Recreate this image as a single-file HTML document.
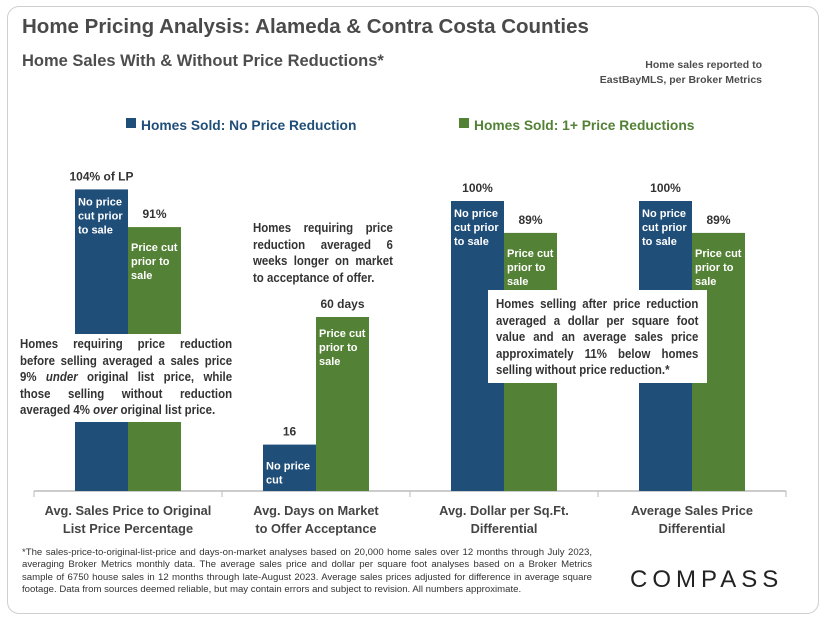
<!DOCTYPE html>
<html><head><meta charset="utf-8"><style>
body{margin:0;width:825px;height:619px;background:#fff;font-family:"Liberation Sans",sans-serif;overflow:hidden;position:relative}
.card{position:absolute;left:7px;top:6px;width:810px;height:606px;border:1px solid #cfcfcf;border-radius:12px}
.t{position:absolute;color:#4d4d4d;font-weight:bold}
.ann{position:absolute;background:#fff}
.ann>div{transform:scaleX(0.88);transform-origin:0 0;font-weight:bold;color:#333;font-size:13px;line-height:16.5px}
.ann span{display:block;white-space:nowrap;text-align:justify;text-align-last:justify}
.ann span.last{text-align-last:left}
</style></head><body>
<div class="card"></div>
<div class="t" style="left:22px;top:15px;font-size:20.5px;color:#4a4a4a">Home Pricing Analysis: Alameda &amp; Contra Costa Counties</div>
<div class="t" style="left:22px;top:52px;font-size:16.5px">Home Sales With &amp; Without Price Reductions*</div>
<div class="t" style="right:63px;top:58px;font-size:10.5px;text-align:right;line-height:15px">Home sales reported to<br>EastBayMLS, per Broker Metrics</div>
<svg id="chart" width="825" height="619" style="position:absolute;left:0;top:0"></svg>
<div class="t" style="left:22px;top:547px;width:570px;font-size:9.6px;line-height:12.3px;font-weight:normal;color:#333;text-align:justify">*The sales-price-to-original-list-price and days-on-market analyses based on 20,000 home sales over 12 months through July 2023, averaging Broker Metrics monthly data. The average sales price and dollar per square foot analyses based on a Broker Metrics sample of 6750 house sales in 12 months through late-August 2023. Average sales prices adjusted for difference in average square footage. Data from sources deemed reliable, but may contain errors and subject to revision. All numbers approximate.</div>
<div class="t" style="left:630px;top:566px;font-size:24px;letter-spacing:5px;font-weight:normal;color:#222">COMPASS</div>
<script>
const categories=[["Avg. Sales Price to Original","List Price Percentage"],["Avg. Days on Market","to Offer Acceptance"],["Avg. Dollar per Sq.Ft.","Differential"],["Average Sales Price","Differential"]];
const noCut=[104,16,100,100];
const withCut=[91,60,89,89];
const noCutLabels=["104% of LP","16","100%","100%"];
const withCutLabels=["91%","60 days","89%","89%"];
const noCutInner=[["No price","cut prior","to sale"],["No price","cut"],["No price","cut prior","to sale"],["No price","cut prior","to sale"]];
const withCutInner=[["Price cut","prior to","sale"],["Price cut","prior to","sale"],["Price cut","prior to","sale"],["Price cut","prior to","sale"]];
const svg=document.getElementById('chart');const NS='http://www.w3.org/2000/svg';
const base=491,left=34,gw=188,k=2.9;
const y=v=>base-v*k;const h=v=>v*k;
function mk(t,a,p){const e=document.createElementNS(NS,t);for(const x in a)e.setAttribute(x,a[x]);(p||svg).appendChild(e);return e;}
function txt(x,yy,s,o){const e=mk('text',Object.assign({x:x,y:yy,'font-family':'Liberation Sans, sans-serif','font-weight':'bold','font-size':12,fill:'#333'},o||{}));e.textContent=s;return e;}
let r=mk('rect',{x:126,y:118,width:10,height:10,fill:'#1f4e79'});
let l=txt(141,130,'Homes Sold: No Price Reduction',{'font-size':13.8,fill:'#1f4e79'});
r=mk('rect',{x:459,y:118,width:10,height:10,fill:'#538135'});
l=txt(474,130,'Homes Sold: 1+ Price Reductions',{'font-size':13.8,fill:'#538135'});
let ax=mk('line',{x1:left,y1:base,x2:left+gw*4,y2:base,stroke:'#bbb','stroke-width':1.5});
categories.forEach((c,i)=>{
 const gx=left+i*gw;
 let tk=mk('line',{x1:gx,y1:base,x2:gx,y2:base+6,stroke:'#bbb'});
 if(i==3){tk=mk('line',{x1:gx+gw,y1:base,x2:gx+gw,y2:base+6,stroke:'#bbb'});}
 const bx=gx+41,bw=53;
 let b=mk('rect',{x:bx,y:y(noCut[i]),width:bw,height:h(noCut[i]),fill:'#1f4e79'});
 b=mk('rect',{x:bx+bw,y:y(withCut[i]),width:bw,height:h(withCut[i]),fill:'#538135'});
 let v=txt(bx+bw/2,y(noCut[i])-9,noCutLabels[i],{'text-anchor':'middle'});
 v=txt(bx+bw*1.5,y(withCut[i])-9,withCutLabels[i],{'text-anchor':'middle'});
 noCutInner[i].forEach((s,j)=>{const t=txt(bx+3,y(noCut[i])+(i==1?25:16)+j*14,s,{fill:'#fff','font-size':11});});
 withCutInner[i].forEach((s,j)=>{const t=txt(bx+bw+3,y(withCut[i])+(i==1?20:24)+j*14,s,{fill:'#fff','font-size':11});});
 c.forEach((s,j)=>{const t=txt(gx+gw/2,base+24+j*18,s,{'text-anchor':'middle','font-size':12.8,fill:'#444'});});
});
</script>
<div class="ann" style="left:20px;top:334px;width:212px;height:88px"><div style="width:241px;padding-top:2px"><span>Homes requiring price reduction</span><span>before selling averaged a sales price</span><span>9% <i>under</i> original list price, while</span><span>those selling without reduction</span><span class="last">averaged 4% <i>over</i> original list price.</span></div></div>
<div class="ann" style="left:253px;top:220px;width:140px;background:none"><div style="width:159px"><span>Homes requiring price</span><span>reduction averaged 6</span><span>weeks longer on market</span><span class="last">to acceptance of offer.</span></div></div>
<div class="ann" style="left:488px;top:290px;width:219px;height:93px"><div style="width:230px;margin:6px 0 0 8px"><span>Homes selling after price reduction</span><span>averaged a dollar per square foot</span><span>value and an average sales price</span><span>approximately 11% below homes</span><span class="last">selling without price reduction.*</span></div></div>
</body></html>
